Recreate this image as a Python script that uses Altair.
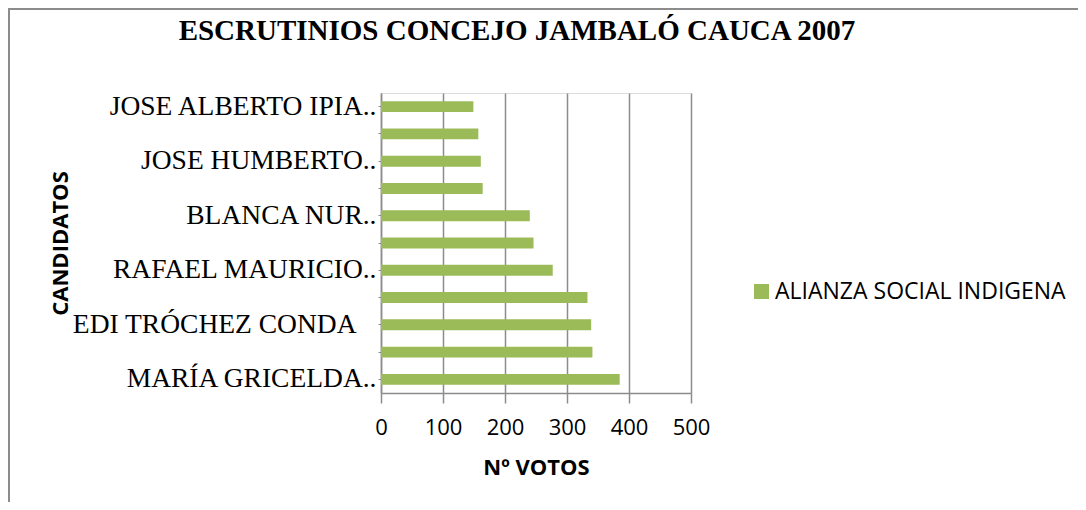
import altair as alt
import pandas as pd

TITULO = "ESCRUTINIOS CONCEJO JAMBALÓ CAUCA 2007"

# Candidates from top to bottom (only every other label is visible in the original)
candidatos = [
    "JOSE ALBERTO IPIA..",
    "candidato_10",
    "JOSE HUMBERTO..",
    "candidato_8",
    "BLANCA NUR..",
    "candidato_6",
    "RAFAEL MAURICIO..",
    "candidato_4",
    "EDI TRÓCHEZ CONDA",
    "candidato_2",
    "MARÍA GRICELDA..",
]
votos = [149, 157, 161, 164, 240, 246, 277, 333, 339, 341, 385]
partido = ["ALIANZA SOCIAL INDIGENA"] * len(candidatos)
etiquetas_visibles = [c for c in candidatos if not c.startswith("candidato_")]

df = pd.DataFrame({"candidato": candidatos, "votos": votos, "partido": partido})

label_expr = "indexof([" + ",".join("'" + e + "'" for e in etiquetas_visibles) + "], datum.label) >= 0 ? datum.label : ''"

GRIS = "#8C8C8C"

bars = alt.Chart(df).mark_bar(color="#9BBB59").encode(
    x=alt.X(
        "votos:Q",
        scale=alt.Scale(domain=[0, 500], nice=False),
        axis=alt.Axis(
            values=[0, 100, 200, 300, 400, 500],
            title="Nº VOTOS",
            titleFont="Open Sans",
            titleFontSize=22,
            titleFontWeight="bold",
            titleColor="#000000",
            titlePadding=19,
            labelFont="Open Sans",
            labelFontSize=22,
            labelColor="#000000",
            labelPadding=14,
            labelFlush=False,
            labelOverlap=False,
            grid=True,
            gridColor=GRIS,
            gridWidth=1.5,
            domainColor=GRIS,
            domainWidth=1.5,
            tickColor=GRIS,
            tickWidth=1.5,
            tickSize=10,
        ),
    ),
    y=alt.Y(
        "candidato:N",
        sort=candidatos,
        scale=alt.Scale(paddingInner=0.6, paddingOuter=0.3),
        axis=alt.Axis(
            title="CANDIDATOS",
            titleFont="Open Sans",
            titleFontSize=22,
            titleFontWeight="bold",
            titleColor="#000000",
            titleAngle=270,
            titleX=-321,
            titleY=150,
            titleAlign="center",
            titleBaseline="middle",
            labelFont="Liberation Serif",
            labelFontSize=27.5,
            labelColor="#000000",
            labelExpr=label_expr,
            labelPadding={
                "condition": {"test": "datum.value == 'EDI TRÓCHEZ CONDA'", "value": 22},
                "value": 2,
            },
            labelLimit=400,
            domainColor=GRIS,
            domainWidth=1.5,
            tickColor=GRIS,
            tickSize=3,
            grid=False,
        ),
    ),
    fill=alt.Fill(
        "partido:N",
        scale=alt.Scale(range=["#9BBB59"]),
        legend=alt.Legend(
            title=None,
            orient="none",
            legendX=369,
            legendY=187,
            symbolType="square",
            symbolSize=225,
            symbolStrokeWidth=0,
            labelFont="Open Sans",
            labelFontSize=23,
            labelColor="#000000",
            labelOffset=2,
            padding=0,
            labelLimit=500,
        ),
    ),
)

marco = alt.Chart(pd.DataFrame({"marco": [0]}))
borde_izq = marco.mark_rule(color=GRIS, strokeWidth=2).encode(
    x=alt.value(-372), y=alt.value(-85), y2=alt.value(420)
)
borde_sup = marco.mark_rule(color=GRIS, strokeWidth=2).encode(
    x=alt.value(-373), x2=alt.value(710), y=alt.value(-84)
)

titulo = alt.Chart(pd.DataFrame({"titulo": [TITULO]})).mark_text(
    font="Liberation Serif",
    fontSize=29,
    fontWeight="bold",
    color="#000000",
    align="center",
    baseline="middle",
).encode(text="titulo:N", x=alt.value(136), y=alt.value(-62))

chart = alt.layer(bars, borde_izq, borde_sup, titulo).properties(
    width=310,
    height=300,
    autosize=alt.AutoSizeParams(type="none"),
    padding={"left": 373, "top": 85, "right": 387, "bottom": 109},
).configure_view(stroke=None).configure(background="#FFFFFF")

chart.save("out.html", embed_options={"renderer": "svg", "actions": False})
